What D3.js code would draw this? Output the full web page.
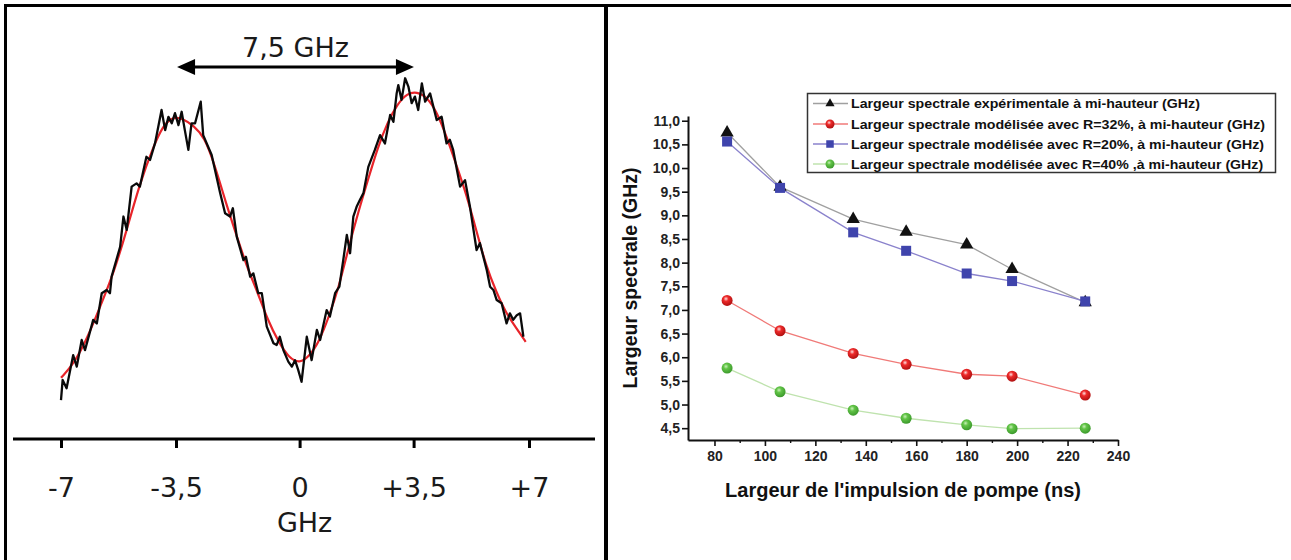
<!DOCTYPE html>
<html><head><meta charset="utf-8">
<script src="https://cdn.jsdelivr.net/npm/d3@7"></script>
<style>body{margin:0;background:#fff}svg{display:block}</style>
</head><body><svg id="c" width="1291" height="560"></svg>
<script>
// ---------- LEFT PANEL DATA ----------
const leftTicks = [-7, -3.5, 0, 3.5, 7];
const leftTickLabels = ["-7", "-3,5", "0", "+3,5", "+7"];
const leftXLabel = "GHz";
const spanLabel = "7,5 GHz";
const spanGHz = [-3.47, 3.51];
const spanLevel = 103.3;

const traceGHz = [-7.0,-6.95,-6.83,-6.63,-6.52,-6.37,-6.27,-6.02,-5.91,-5.76,-5.61,-5.51,-5.46,-5.20,-5.10,-5.00,-4.85,-4.70,-4.60,-4.40,-4.29,-4.14,-4.09,-3.94,-3.83,-3.73,-3.63,-3.53,-3.43,-3.34,-3.25,-3.15,-3.06,-2.96,-2.80,-2.73,-2.59,-2.49,-2.25,-2.11,-1.97,-1.89,-1.78,-1.59,-1.52,-1.40,-1.31,-1.17,-1.07,-0.93,-0.74,-0.65,-0.56,-0.46,-0.32,-0.22,-0.13,-0.04,0.06,0.22,0.37,0.53,0.63,0.83,0.93,1.09,1.22,1.34,1.45,1.55,1.65,1.75,1.85,1.96,2.11,2.31,2.47,2.62,2.78,2.88,2.98,3.03,3.13,3.24,3.34,3.44,3.54,3.64,3.75,3.85,4.00,4.20,4.35,4.50,4.60,4.70,4.91,5.06,5.21,5.41,5.51,5.72,5.82,5.92,6.02,6.17,6.32,6.42,6.52,6.63,6.73,6.83];
const traceInt = [10.8,16.4,14.1,23.3,20.1,27.5,24.7,33.1,32.1,40.5,41.4,40.5,45.1,53.4,61.8,58.1,70.1,71.0,70.1,78.4,77.5,82.1,84.4,91.4,85.8,89.5,87.7,90.5,87.2,90.9,85.8,80.3,87.7,87.7,93.7,84.4,81.2,78.9,68.3,62.7,61.8,64.1,56.2,49.7,50.6,45.1,46.0,40.5,40.5,31.2,26.6,26.1,28.4,24.7,21.5,20.1,21.9,19.2,15.9,28.4,21.9,30.3,27.5,35.8,34.0,40.5,42.3,49.7,56.7,51.6,61.8,64.5,66.4,68.3,75.6,80.3,84.4,82.1,90.0,88.1,96.0,98.3,94.2,100.2,97.9,93.3,95.1,91.4,98.8,93.7,96.0,88.6,89.5,82.1,83.1,80.3,70.1,71.9,64.5,52.5,54.4,46.9,42.3,41.4,38.6,37.7,32.1,34.9,33.1,34.4,34.9,28.4];

const fitGHz = [-7.0,-6.6,-6.2,-5.8,-5.4,-5.0,-4.6,-4.2,-3.9,-3.6,-3.3,-3.0,-2.7,-2.4,-2.1,-1.8,-1.5,-1.2,-0.9,-0.6,-0.3,0.0,0.3,0.6,0.9,1.2,1.5,1.8,2.1,2.4,2.7,3.0,3.3,3.6,3.9,4.2,4.5,4.8,5.1,5.4,5.7,6.0,6.3,6.6,6.9];
const fitInt = [17,21,28,37,46,58,71,81,87,89.5,89,87,84,76,66,57,48,41,33,27,22.5,21,23,27,34,42,53,63,72,81,88,93,96,96.5,95,91,84,76,68,58,48,41,35,31,27];

// ---------- RIGHT PANEL DATA ----------
const pulseWidth = [85, 106, 135, 156, 180, 198, 227];
const expWidth = [10.75, 9.6, 8.92, 8.65, 8.38, 7.86, 7.16];
const r32Width = [7.2, 6.56, 6.08, 5.85, 5.64, 5.6, 5.2];
const r20Width = [10.56, 9.58, 8.64, 8.25, 7.77, 7.61, 7.18];
const r40Width = [5.77, 5.27, 4.88, 4.71, 4.57, 4.49, 4.5];
const xTicksR = [80, 100, 120, 140, 160, 180, 200, 220, 240];
const xMinorR = [90, 110, 130, 150, 170, 190, 210, 230];
const yTicksR = [4.5, 5.0, 5.5, 6.0, 6.5, 7.0, 7.5, 8.0, 8.5, 9.0, 9.5, 10.0, 10.5, 11.0];
const yTickLabelsR = ["4,5","5,0","5,5","6,0","6,5","7,0","7,5","8,0","8,5","9,0","9,5","10,0","10,5","11,0"];
const xTitleR = "Largeur de l'impulsion de pompe (ns)";
const yTitleR = "Largeur spectrale (GHz)";
const legendLabels = [
  "Largeur spectrale expérimentale à mi-hauteur (GHz)",
  "Largeur spectrale modélisée avec R=32%, à mi-hauteur (GHz)",
  "Largeur spectrale modélisée avec R=20%, à mi-hauteur (GHz)",
  "Largeur spectrale modélisée avec R=40% ,à mi-hauteur (GHz)"
];

const svg = d3.select("#c");
const defs = svg.append("defs");
function sphere(id, light, mid, dark){
  const g = defs.append("radialGradient").attr("id", id).attr("cx","40%").attr("cy","35%").attr("r","65%");
  g.append("stop").attr("offset","0%").attr("stop-color", light);
  g.append("stop").attr("offset","35%").attr("stop-color", mid);
  g.append("stop").attr("offset","100%").attr("stop-color", dark);
}
sphere("gRed", "#ffe0e0", "#ee2a2a", "#b01010");
sphere("gGreen", "#c8f0b8", "#62c447", "#3c9a2c");
const markerDef = [
  {type:"tri", fill:"#111", line:"#a0a0a0"},
  {type:"circ", fill:"url(#gRed)", line:"#f07a78"},
  {type:"sq", fill:"#3f44ac", line:"#8a82cc"},
  {type:"circ", fill:"url(#gGreen)", line:"#bfe3ae"}
];

// ---------- FRAME ----------
svg.append("line").attr("x1",4).attr("x2",1291).attr("y1",5.5).attr("y2",5.5).attr("stroke","#000").attr("stroke-width",3);
svg.append("line").attr("x1",5.5).attr("x2",5.5).attr("y1",4).attr("y2",560).attr("stroke","#000").attr("stroke-width",3);
svg.append("line").attr("x1",606).attr("x2",606).attr("y1",4).attr("y2",560).attr("stroke","#000").attr("stroke-width",4);

// ---------- LEFT PANEL ----------
const xL = d3.scaleLinear().domain([-7, -3.5, 0, 3.5, 7]).range([61, 176, 299.6, 413.6, 529]);
const yL = d3.scaleLinear().domain([0, 100]).range([439, 79]);
const L = svg.append("g");
const fontL = "'DejaVu Sans', sans-serif";

L.append("line").attr("x1",13).attr("x2",595).attr("y1",yL(0)).attr("y2",yL(0)).attr("stroke","#000").attr("stroke-width",3);
const axL = L.append("g").attr("transform",`translate(0,${yL(0)})`)
  .call(d3.axisBottom(xL).tickValues(leftTicks).tickFormat((d,i)=>leftTickLabels[i]).tickSize(9).tickPadding(30));
axL.select(".domain").remove();
axL.selectAll(".tick line").attr("stroke","#000").attr("stroke-width",3);
axL.selectAll(".tick text").attr("font-family",fontL).attr("font-size",27).attr("fill","#1a1a1a");
L.append("text").attr("x",xL(0)+5).attr("y",532).attr("text-anchor","middle")
  .attr("font-family",fontL).attr("font-size",27).attr("fill","#1a1a1a").text(leftXLabel);

const fitPts = fitGHz.map((g,i)=>[g, fitInt[i]]);
const trPts = traceGHz.map((g,i)=>[g, traceInt[i]]);
L.append("path").datum(fitPts).attr("fill","none").attr("stroke","#e8242a").attr("stroke-width",2.2)
  .attr("d", d3.line().x(d=>xL(d[0])).y(d=>yL(d[1])).curve(d3.curveBasis));
L.append("path").datum(trPts).attr("fill","none").attr("stroke","#0a0a0a").attr("stroke-width",2.3)
  .attr("stroke-linejoin","round")
  .attr("d", d3.line().x(d=>xL(d[0])).y(d=>yL(d[1])));

// arrow
const ax0 = xL(spanGHz[0]), ax1 = xL(spanGHz[1]), ay = yL(spanLevel);
L.append("line").attr("x1",ax0+14).attr("x2",ax1-14).attr("y1",ay).attr("y2",ay).attr("stroke","#000").attr("stroke-width",3);
L.append("path").attr("d",`M${ax0},${ay} L${ax0+18},${ay-8} L${ax0+18},${ay+8} Z`).attr("fill","#000");
L.append("path").attr("d",`M${ax1},${ay} L${ax1-18},${ay-8} L${ax1-18},${ay+8} Z`).attr("fill","#000");
L.append("text").attr("x",(ax0+ax1)/2).attr("y",ay-10).attr("text-anchor","middle")
  .attr("font-family",fontL).attr("font-size",27).attr("fill","#1a1a1a").text(spanLabel);

// ---------- RIGHT PANEL ----------
const fontR = "'Liberation Sans', Arial, sans-serif";
const xR = d3.scaleLinear().domain([69.5, 240]).range([688, 1118]);
const yR = d3.scaleLinear().domain([4.25, 11.1]).range([440, 116]);
const R = svg.append("g");

const gx = R.append("g").attr("transform","translate(0,440)")
  .call(d3.axisBottom(xR).tickValues(xTicksR).tickFormat(d3.format("d")).tickSize(6).tickPadding(5).tickSizeOuter(0));
gx.select(".domain").attr("stroke","#111").attr("stroke-width",2);
gx.selectAll(".tick line").attr("stroke","#111").attr("stroke-width",1.6);
gx.selectAll(".tick text").attr("font-family",fontR).attr("font-weight","bold").attr("font-size",14).attr("fill","#222");
R.append("g").attr("transform","translate(0,440)")
  .call(d3.axisBottom(xR).tickValues(xMinorR).tickFormat("").tickSize(3).tickSizeOuter(0))
  .call(g=>{g.select(".domain").remove(); g.selectAll("line").attr("stroke","#111").attr("stroke-width",1.4);});

const gy = R.append("g").attr("transform","translate(688,0)")
  .call(d3.axisLeft(yR).tickValues(yTicksR).tickFormat((d,i)=>yTickLabelsR[i]).tickSize(6).tickPadding(2).tickSizeOuter(0));
gy.select(".domain").attr("stroke","#111").attr("stroke-width",2);
gy.selectAll(".tick line").attr("stroke","#111").attr("stroke-width",1.6);
gy.selectAll(".tick text").attr("font-family",fontR).attr("font-weight","bold").attr("font-size",14).attr("fill","#222");

R.append("text").attr("x",(688+1118)/2).attr("y",497).attr("text-anchor","middle")
  .attr("font-family",fontR).attr("font-weight","bold").attr("font-size",20).attr("fill","#111").text(xTitleR);
R.append("text").attr("transform",`translate(637,${(116+440)/2}) rotate(-90)`).attr("text-anchor","middle")
  .attr("font-family",fontR).attr("font-weight","bold").attr("font-size",19.5).attr("fill","#111").text(yTitleR);

function drawMarker(sel, type, fill, size){
  if(type==="tri"){
    sel.append("path").attr("d", d3.symbol(d3.symbolTriangle, size*size*0.45)()).attr("fill",fill);
  } else if(type==="sq"){
    sel.append("rect").attr("x",-size/2).attr("y",-size/2).attr("width",size).attr("height",size).attr("fill",fill);
  } else {
    sel.append("circle").attr("r",size/2).attr("fill",fill);
  }
}

const seriesVals = [expWidth, r32Width, r20Width, r40Width];
const lineGen = d3.line().x(d=>xR(d[0])).y(d=>yR(d[1]));
const drawOrder = [3, 1, 0, 2];
drawOrder.forEach(si=>{
  const pts = pulseWidth.map((x,i)=>[x, seriesVals[si][i]]);
  R.append("path").datum(pts).attr("fill","none").attr("stroke",markerDef[si].line).attr("stroke-width",1.3).attr("d",lineGen);
});
const sizes = [13, 11, 10, 11];
drawOrder.forEach(si=>{
  pulseWidth.forEach((x,i)=>{
    const g = R.append("g").attr("transform",`translate(${xR(x)},${yR(seriesVals[si][i])})`);
    drawMarker(g, markerDef[si].type, markerDef[si].fill, sizes[si]);
  });
});

// legend
const lg = R.append("g");
lg.append("rect").attr("x",807.5).attr("y",93.5).attr("width",468).attr("height",79).attr("fill","#fff").attr("stroke","#333").attr("stroke-width",1.5);
const rowY = [103.5, 124, 144, 164];
const legSizes = [9, 9, 7.5, 9];
const legTargetW = [349, 414, 413, 412];
legendLabels.forEach((t,i)=>{
  lg.append("line").attr("x1",813).attr("x2",848).attr("y1",rowY[i]).attr("y2",rowY[i]).attr("stroke",markerDef[i].line).attr("stroke-width",1.5);
  const g = lg.append("g").attr("transform",`translate(830,${rowY[i]})`);
  drawMarker(g, markerDef[i].type, markerDef[i].fill, legSizes[i]);
  const tx = lg.append("text").attr("x",0).attr("y",0).attr("font-family",fontR).attr("font-weight","bold")
    .attr("font-size",13.2).attr("fill","#111").text(t);
  const w = tx.node().getComputedTextLength();
  const k = w > 0 ? legTargetW[i] / w : 1;
  tx.attr("transform",`translate(851,${rowY[i]+4.7}) scale(${k},1)`);
});
</script></body></html>
